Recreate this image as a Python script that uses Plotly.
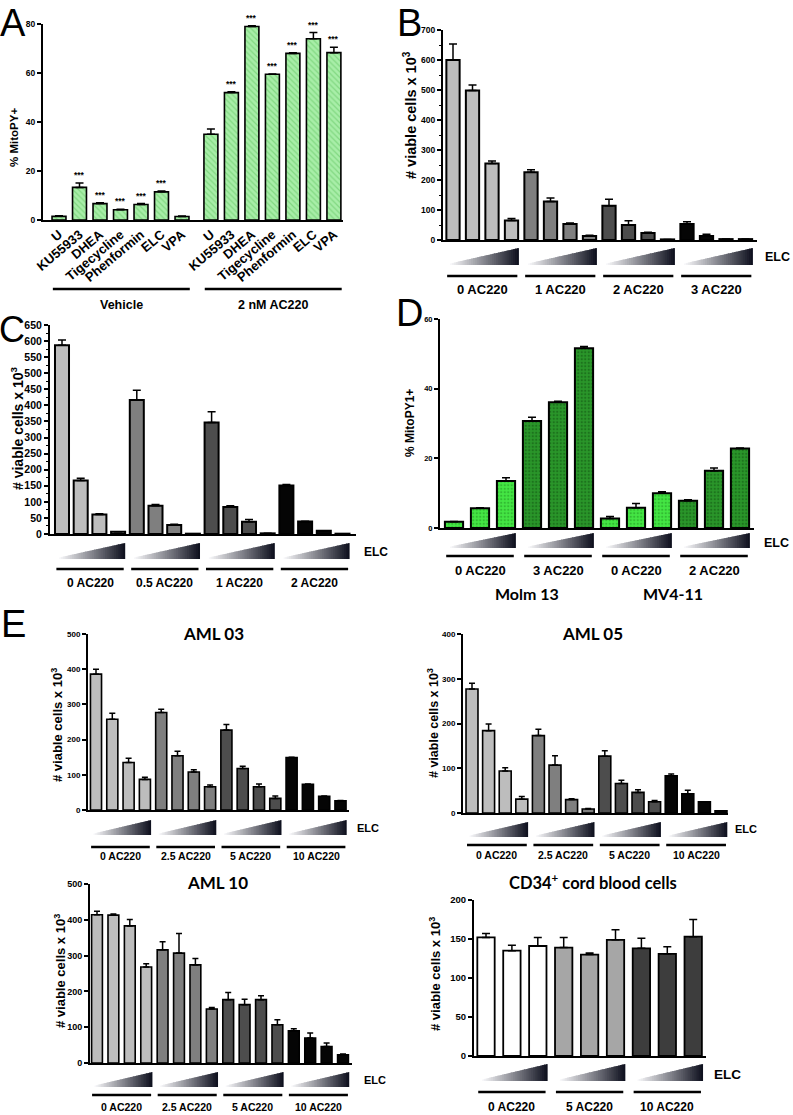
import plotly.graph_objects as go

W, H = 793, 1115

# ---------------- Panel A data ----------------
A_labels = ["U", "KU55933", "DHEA", "Tigecycline", "Phenformin", "ELC", "VPA"]
A_groups = ["Vehicle", "2 nM AC220"]
A_vehicle = [1.5, 13.3, 6.7, 4.2, 6.3, 11.5, 1.4]
A_vehicle_err = [0.2, 1.8, 0.3, 0.2, 0.4, 0.3, 0.2]
A_ac220 = [35.0, 52.0, 79.0, 59.5, 68.0, 74.0, 68.3]
A_ac220_err = [2.1, 0.3, 0.3, 0.1, 0.3, 2.5, 2.2]
A_vehicle_sig = ["", "***", "***", "***", "***", "***", ""]
A_ac220_sig = ["", "***", "***", "***", "***", "***", "***"]

# ---------------- Panel B data ----------------
B_groups = ["0 AC220", "1 AC220", "2 AC220", "3 AC220"]
B_values = [[600, 498, 255, 65], [226, 128, 53, 13], [114, 50, 23, 2], [53, 13, 3, 3]]
B_err = [[53, 19, 8, 7], [8, 12, 4, 3], [22, 14, 3, 0], [8, 6, 0, 0]]

# ---------------- Panel C data ----------------
C_groups = ["0 AC220", "0.5 AC220", "1 AC220", "2 AC220"]
C_values = [[587, 166, 61, 7], [417, 88, 28, 1], [347, 84, 38, 2], [151, 39, 10, 1]]
C_err = [[16, 7, 2, 0], [30, 4, 2, 0], [33, 4, 7, 0], [3, 1, 0, 0]]

# ---------------- Panel D data ----------------
D_groups = ["0 AC220", "3 AC220", "0 AC220", "2 AC220"]
D_cell_lines = ["Molm 13", "MV4-11"]
D_values = [[1.8, 5.7, 13.5], [30.7, 36.1, 51.6], [2.7, 5.8, 10.0], [7.8, 16.4, 22.8]]
D_err = [[0.1, 0.1, 0.9], [1.1, 0.3, 0.5], [0.6, 1.2, 0.4], [0.3, 0.8, 0.2]]

# ---------------- Panel E data ----------------
E_groups = ["0 AC220", "2.5 AC220", "5 AC220", "10 AC220"]
AML03_values = [[386, 258, 135, 87], [277, 154, 108, 66], [227, 118, 66, 33], [149, 73, 39, 26]]
AML03_err = [[14, 17, 12, 6], [9, 13, 6, 5], [16, 6, 8, 7], [1, 1, 1, 1]]
AML05_values = [[277, 184, 94, 31], [173, 107, 30, 9], [127, 66, 46, 25], [83, 43, 25, 5]]
AML05_err = [[13, 15, 7, 6], [14, 21, 2, 1], [12, 7, 6, 3], [4, 8, 0, 0]]
AML10_values = [[414, 413, 383, 268], [316, 307, 274, 151], [177, 163, 177, 107], [90, 70, 46, 23]]
AML10_err = [[10, 3, 18, 9], [23, 55, 18, 4], [20, 15, 11, 14], [6, 14, 10, 2]]
CD34_groups = ["0 AC220", "5 AC220", "10 AC220"]
CD34_values = [[152, 135, 141], [139, 130, 149], [138, 131, 153]]
CD34_err = [[5, 7, 11], [13, 2, 13], [13, 9, 22]]

GRAYS4 = ["#bdbdbd", "#7f7f7f", "#4d4d4d", "#050505"]
CD34_COLORS = ["#ffffff", "#a6a6a6", "#3d3d3d"]

ARIAL = "Liberation Sans, Arial, sans-serif"
CAL = "Lato, Open Sans, sans-serif"

fig = go.Figure()
shapes = []
annotations = []


def X(px):
    return px / W


def Y(py):
    return 1 - py / H


def refs(i):
    return ("x" if i == 1 else f"x{i}"), ("y" if i == 1 else f"y{i}")


def setup_axes(i, g, xtickvals=None, xticktext=None):
    xr, yr = refs(i)
    xkey = "xaxis" if i == 1 else f"xaxis{i}"
    ykey = "yaxis" if i == 1 else f"yaxis{i}"
    xa = dict(domain=[X(g["left"]), X(g["right"])],
              range=[(g["left"] - g["first"]) / g["sp"], (g["right"] - g["first"]) / g["sp"]],
              showline=True, linecolor="black", linewidth=2, showgrid=False, zeroline=False,
              ticks="", showticklabels=False, anchor=yr, fixedrange=True, automargin=False)
    if xtickvals is not None:
        xa.update(tickvals=xtickvals, ticktext=xticktext, showticklabels=True, tickangle=-40,
                  tickfont=dict(family=ARIAL, size=13, color="black", weight="bold"))
    ya = dict(domain=[Y(g["bottom"]), Y(g["top"])], range=[0, g["ymax"]],
              showline=True, linecolor="black", linewidth=2, showgrid=False, zeroline=False,
              ticks="outside", ticklen=4, tickwidth=1.5, tickcolor="black", dtick=g["dtick"],
              tick0=0, tickfont=dict(family=ARIAL, size=g["tfs"], color="black", weight="bold"),
              anchor=xr, fixedrange=True, automargin=False)
    if g.get("minor"):
        ya["minor"] = dict(dtick=g["minor"], ticks="outside", ticklen=2.5, tickwidth=1, tickcolor="black")
    fig.update_layout(**{xkey: xa, ykey: ya})


def add_wedge(xref, xs, xe, ytop, ybot, nsl=36):
    c0 = (250, 250, 252)
    c1 = (12, 14, 28)
    hmin = 1.5
    for k in range(nsl):
        t0 = k / nsl
        t1 = min(1.0, (k + 1.6) / nsl)
        xa = xs + (xe - xs) * t0
        xb = xs + (xe - xs) * t1
        ya_top = ybot - (hmin + (ybot - ytop - hmin) * t0)
        yb_top = ybot - (hmin + (ybot - ytop - hmin) * t1)
        tm = (k + 0.5) / nsl
        c = tuple(round(c0[m] + (c1[m] - c0[m]) * tm) for m in range(3))
        path = (f"M{xa},{Y(ybot)} L{xb},{Y(ybot)} L{xb},{Y(yb_top)} "
                f"L{xa},{Y(ya_top)} Z")
        shapes.append(dict(type="path", xref=xref, yref="paper", path=path,
                           fillcolor=f"rgb{c}", line=dict(width=0), layer="above"))


def ann(text, x, y, size, xref="paper", family=ARIAL, weight="bold", xanchor="center",
        yanchor="middle", textangle=0, yref="paper"):
    annotations.append(dict(text=text, x=x, y=y, xref=xref, yref=yref, showarrow=False,
                            font=dict(family=family, size=size, color="black", weight=weight),
                            xanchor=xanchor, yanchor=yanchor, textangle=textangle))


def grouped_panel(i, groups, values, errs, colors, g, patterns=None):
    xr, yr = refs(i)
    setup_axes(i, g)
    n = len(values[0])
    for gi, (vals, er) in enumerate(zip(values, errs)):
        xs = [gi * n + j for j in range(n)]
        marker = dict(color=colors[gi], line=dict(color="black", width=g.get("lw", 2)))
        if patterns is not None:
            marker["pattern"] = patterns[gi]
        fig.add_trace(go.Bar(x=xs, y=vals, width=g["bw"], marker=marker, xaxis=xr, yaxis=yr,
                             showlegend=False,
                             error_y=dict(type="data", array=er, arrayminus=[0] * n,
                                          symmetric=False, color="black", thickness=1.5,
                                          width=g.get("ew", 4))))
        # wedge, group line, group label
        add_wedge(xr, gi * n - 0.15, gi * n + n - 1 + 0.38, g["wedge"][0], g["wedge"][1])
        shapes.append(dict(type="line", xref=xr, yref="paper", x0=gi * n - 0.3,
                           x1=gi * n + n - 1 + 0.3, y0=Y(g["line_y"]), y1=Y(g["line_y"]),
                           line=dict(color="black", width=2.5)))
        ann(groups[gi], gi * n + (n - 1) / 2, Y(g["label_y"]), g["lab_fs"], xref=xr)
    ex, ey, es = g["elc"]
    ann("ELC", X(ex), Y(ey), es, xanchor="left")
    tx, ty, ts = g["ytitle"]
    ann(g.get("ytext", "# viable cells x 10<sup>3</sup>"), X(tx), Y(ty), ts, textangle=-90)


# ---------------- Panel A ----------------
gA = dict(left=43, right=343, top=24, bottom=220, first=59, sp=20.5, ymax=80, dtick=20, tfs=8.5)
A_offset = len(A_labels) + 0.41
A_pos1 = [j for j in range(len(A_labels))]
A_pos2 = [A_offset + j for j in range(len(A_labels))]
setup_axes(1, gA, A_pos1 + A_pos2, A_labels + A_labels)
A_pattern = dict(shape="\\", fgcolor="#5cc25c", bgcolor="#a8eea8", size=4, solidity=0.3)
for pos, vals, er, sig in [(A_pos1, A_vehicle, A_vehicle_err, A_vehicle_sig),
                           (A_pos2, A_ac220, A_ac220_err, A_ac220_sig)]:
    fig.add_trace(go.Bar(x=pos, y=vals, width=0.68, xaxis="x", yaxis="y", showlegend=False,
                         marker=dict(color="#a8eea8", line=dict(color="black", width=1.6),
                                     pattern=A_pattern),
                         error_y=dict(type="data", array=er, arrayminus=[0] * len(er),
                                      symmetric=False, color="black", thickness=1.5, width=4)))
    for p, v, e, s in zip(pos, vals, er, sig):
        if s:
            annotations.append(dict(text=s, x=p, y=v + e, xref="x", yref="y", showarrow=False,
                                    yanchor="bottom", yshift=1,
                                    font=dict(family=ARIAL, size=8.5, color="black", weight="bold")))
for k, start in enumerate([0, A_offset]):
    shapes.append(dict(type="line", xref="x", yref="paper", x0=start - 0.3, x1=start + 6.38,
                       y0=Y(289), y1=Y(289), line=dict(color="black", width=2.5)))
    ann(A_groups[k], start + 3.05, Y(305), 12.5, xref="x")
ann("% MitoPY+", X(14), Y(138), 11.5, textangle=-90)

# ---------------- Panel B ----------------
gB = dict(left=443, right=757, top=30, bottom=240, first=453, sp=19.5, ymax=700, dtick=100,
          minor=50, tfs=8.5, bw=0.68, wedge=(248, 265), line_y=276, label_y=290, lab_fs=13,
          elc=(763, 257, 12.5), ytitle=(410, 115, 14.5))
grouped_panel(2, B_groups, B_values, B_err, GRAYS4, gB)

# ---------------- Panel C ----------------
gC = dict(left=50, right=356, top=325, bottom=534, first=62, sp=18.7, ymax=650, dtick=50,
          minor=25, tfs=10.5, bw=0.75, wedge=(543, 559), line_y=569, label_y=583, lab_fs=12,
          elc=(362, 552, 12), ytitle=(17, 428, 14))
grouped_panel(3, C_groups, C_values, C_err, GRAYS4, gC)

# ---------------- Panel D ----------------
gD = dict(left=440, right=754, top=319, bottom=528, first=454, sp=26, ymax=60, dtick=20,
          tfs=7.5, bw=0.7, wedge=(533, 548), line_y=556, label_y=570, lab_fs=13,
          elc=(762, 543, 12.5), ytitle=(410, 423, 12), ytext="% MitoPY1+")
light = dict(shape=".", fgcolor="#1f8f1f", bgcolor="#44e644", size=3.5, solidity=0.35)
dark = dict(shape=".", fgcolor="#0f4f0f", bgcolor="#2a962a", size=3.5, solidity=0.35)
grouped_panel(4, D_groups, D_values, D_err, ["#44e644", "#2a962a", "#44e644", "#2a962a"], gD,
              patterns=[light, dark, light, dark])
for name, cx in zip(D_cell_lines, [527, 673]):
    ann(name, X(cx), Y(593), 16, family=CAL)

# ---------------- Panel E ----------------
gE1 = dict(left=88, right=349, top=634, bottom=810, first=96, sp=16.3, ymax=500, dtick=100,
           tfs=8, bw=0.68, lw=1.6, ew=3, wedge=(820, 835), line_y=847, label_y=856, lab_fs=10.5,
           elc=(355, 828, 11), ytitle=(57, 725, 13))
grouped_panel(5, E_groups, AML03_values, AML03_err, GRAYS4, gE1)
ann("AML 03", X(213), Y(633), 17, family=CAL)

gE2 = dict(left=463, right=728, top=634, bottom=813, first=472, sp=16.6, ymax=400, dtick=100,
           tfs=8, bw=0.72, lw=1.6, ew=3, wedge=(822, 837), line_y=845, label_y=855, lab_fs=10.5,
           elc=(733, 829, 11), ytitle=(433, 723, 12.5))
grouped_panel(6, E_groups, AML05_values, AML05_err, GRAYS4, gE2)
ann("AML 05", X(592), Y(633), 17, family=CAL)

gE3 = dict(left=90, right=352, top=884, bottom=1063, first=97, sp=16.4, ymax=500, dtick=100,
           tfs=9, bw=0.66, lw=1.6, ew=3, wedge=(1072, 1087), line_y=1095, label_y=1107,
           lab_fs=10.5, elc=(362, 1080, 11), ytitle=(60, 971, 13))
grouped_panel(7, E_groups, AML10_values, AML10_err, GRAYS4, gE3)
ann("AML 10", X(217), Y(882), 17, family=CAL)

gE4 = dict(left=474, right=706, top=900, bottom=1056, first=486, sp=25.9, ymax=200, dtick=50,
           tfs=9.5, bw=0.67, lw=1.8, ew=4, wedge=(1064, 1081), line_y=1092, label_y=1107,
           lab_fs=12, elc=(712, 1074, 13.5), ytitle=(435, 974, 13))
grouped_panel(8, CD34_groups, CD34_values, CD34_err, CD34_COLORS, gE4)
ann("CD34<sup>+</sup> cord blood cells", X(593), Y(882), 16.5, family=CAL)

# ---------------- panel letters ----------------
for letter, lx, ly, anchor, sz in [("A", 13, 0, "top", 38), ("B", 409, 0, "top", 38),
                                   ("C", 12, 329, "middle", 36), ("D", 409, 313, "middle", 38),
                                   ("E", 13, 624, "middle", 38)]:
    ann(letter, X(lx), Y(ly), sz, weight="normal", yanchor=anchor)

fig.update_layout(width=W, height=H, autosize=False, margin=dict(l=0, r=0, t=0, b=0, pad=0),
                  paper_bgcolor="white", plot_bgcolor="white", barmode="overlay",
                  shapes=shapes, annotations=annotations, showlegend=False)

fig.write_html("out.html", config={"displayModeBar": False},
               post_script="document.body.style.margin='0px';document.body.style.overflow='hidden';")
